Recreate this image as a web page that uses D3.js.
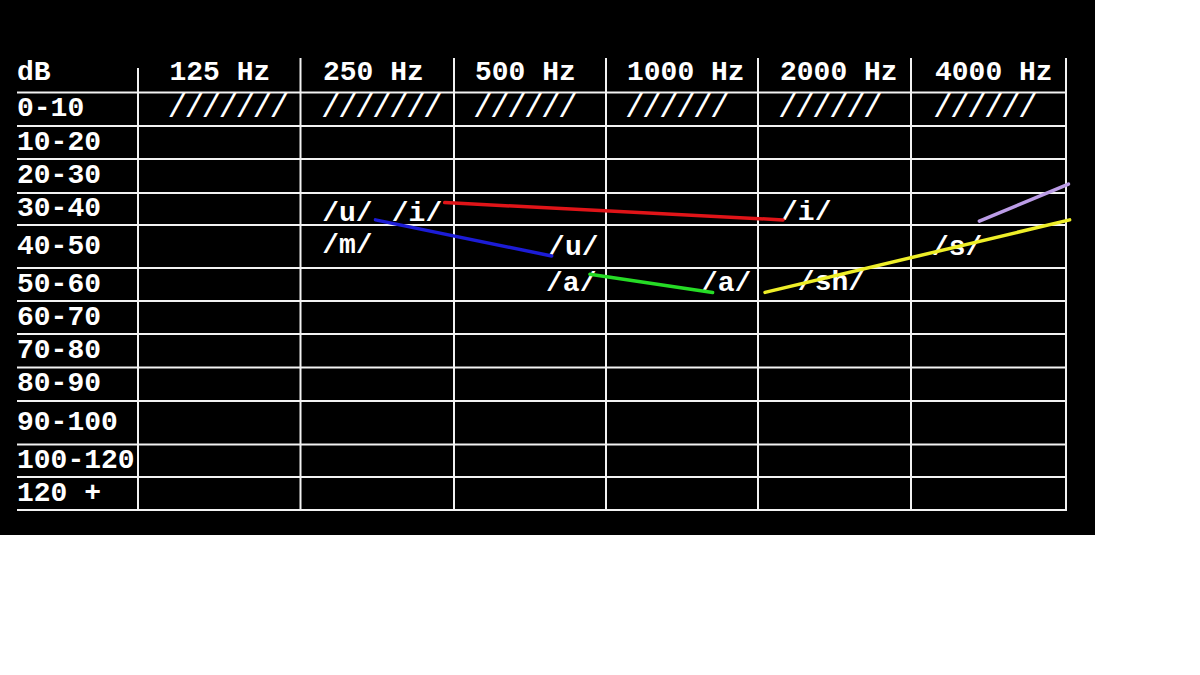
<!DOCTYPE html>
<html>
<head>
<meta charset="utf-8">
<script src="https://cdn.jsdelivr.net/npm/d3@7"></script>
<style>
  html, body { margin: 0; padding: 0; background: #ffffff; }
  svg { display: block; }
</style>
</head>
<body>
<svg id="chart" width="1200" height="675"></svg>
<script>
// ---- data ----
const frequencies = [125, 250, 500, 1000, 2000, 4000];
const freqLabels = ["125 Hz", "250 Hz", "500 Hz", "1000 Hz", "2000 Hz", "4000 Hz"];
const dbEdges = [0, 10, 20, 30, 40, 50, 60, 70, 80, 90, 100, 120, 130];
const dbRowLabels = ["0-10", "10-20", "20-30", "30-40", "40-50", "50-60", "60-70",
                     "70-80", "80-90", "90-100", "100-120", "120 +"];
const hatchCounts = [7, 7, 6, 6, 6, 6];

// speech-sound segments (frequency Hz, level dB)
const segFromHz = [339, 248, 657, 1460, 3840];
const segFromDb = [33.0, 38.4, 51.9, 57.4, 38.8];
const segToHz   = [1584, 552, 1150, 5750, 5720];
const segToDb   = [38.4, 47.2, 57.4, 38.4, 27.4];

// phoneme labels (anchor: frequency Hz, level dB)
const labelText = ["/u/", "/i/", "/m/", "/u/", "/a/", "/a/", "/i/", "/sh/", "/s/"];
const labelHz   = [195, 267, 195, 543, 538, 1090, 1570, 1694, 3106];
const labelDb   = [38.75, 38.75, 46.5, 47, 57, 57, 38.4, 56.7, 47];

// ---- layout / style ----
const colEdgesPx = [138, 300.5, 454, 606, 758, 911, 1066];
const rowEdgesPx = [92.5, 126, 159, 193, 225, 268, 301, 334, 367.5, 401, 444.5, 477, 510];
const segColors = ["#e01418", "#1c1cd6", "#26dc26", "#eeee28", "#bb9ce6"];
const FONT = "'Liberation Mono', 'Courier New', monospace";
const GRID = "#f2f2f2";

const svg = d3.select("#chart");
svg.append("rect").attr("x", 0).attr("y", 0).attr("width", 1095).attr("height", 535).attr("fill", "#000");

// scales
const hzEdges = frequencies.map(f => f / Math.SQRT2).concat([frequencies[frequencies.length - 1] * Math.SQRT2]);
const x = d3.scaleLog().base(2).domain(hzEdges).range(colEdgesPx);
const y = d3.scaleLinear().domain(dbEdges).range(rowEdgesPx);

const g = svg.append("g");

// horizontal grid lines
g.selectAll("line.h").data(dbEdges).join("line")
  .attr("class", "h")
  .attr("x1", 17).attr("x2", x(hzEdges[hzEdges.length - 1]) + 1)
  .attr("y1", d => y(d)).attr("y2", d => y(d))
  .attr("stroke", GRID).attr("stroke-width", 2);

// vertical grid lines
g.selectAll("line.v").data(hzEdges).join("line")
  .attr("class", "v")
  .attr("x1", d => x(d)).attr("x2", d => x(d))
  .attr("y1", (d, i) => i === 0 ? 68 : 58).attr("y2", y(dbEdges[dbEdges.length - 1]) + 1)
  .attr("stroke", GRID).attr("stroke-width", 2);

// header
g.append("text").attr("x", 17).attr("y", 80).text("dB")
  .attr("font-family", FONT).attr("font-weight", "bold").attr("font-size", 28).attr("fill", "#fff");

g.selectAll("text.freq").data(freqLabels).join("text")
  .attr("class", "freq")
  .attr("x", (d, i) => x(hzEdges[i + 1]) - 131)
  .attr("y", 80)
  .text(d => d)
  .attr("font-family", FONT).attr("font-weight", "bold").attr("font-size", 28).attr("fill", "#fff");

// row labels
g.selectAll("text.row").data(dbRowLabels).join("text")
  .attr("class", "row")
  .attr("x", 17)
  .attr("y", (d, i) => (y(dbEdges[i]) + y(dbEdges[i + 1])) / 2 + 7)
  .text(d => d)
  .attr("font-family", FONT).attr("font-weight", "bold").attr("font-size", 28).attr("fill", "#fff");

// hatch marks in the 0-10 row
g.selectAll("text.hatch").data(hatchCounts).join("text")
  .attr("class", "hatch")
  .attr("x", (d, i) => x(hzEdges[i + 1]) - 133)
  .attr("y", (y(dbEdges[0]) + y(dbEdges[1])) / 2 + 8)
  .text(d => "/".repeat(d))
  .attr("font-family", FONT).attr("font-size", 33).attr("letter-spacing", -2.8).attr("fill", "#fff");

// phoneme labels
g.selectAll("text.ph").data(labelText).join("text")
  .attr("class", "ph")
  .attr("x", (d, i) => x(labelHz[i]))
  .attr("y", (d, i) => y(labelDb[i]))
  .text(d => d)
  .attr("font-family", FONT).attr("font-weight", "bold").attr("font-size", 28).attr("fill", "#fff");

// segments
g.selectAll("line.seg").data(segFromHz).join("line")
  .attr("class", "seg")
  .attr("x1", (d, i) => x(segFromHz[i])).attr("y1", (d, i) => y(segFromDb[i]))
  .attr("x2", (d, i) => x(segToHz[i])).attr("y2", (d, i) => y(segToDb[i]))
  .attr("stroke", (d, i) => segColors[i]).attr("stroke-width", 3.5).attr("stroke-linecap", "round");
</script>
</body>
</html>
